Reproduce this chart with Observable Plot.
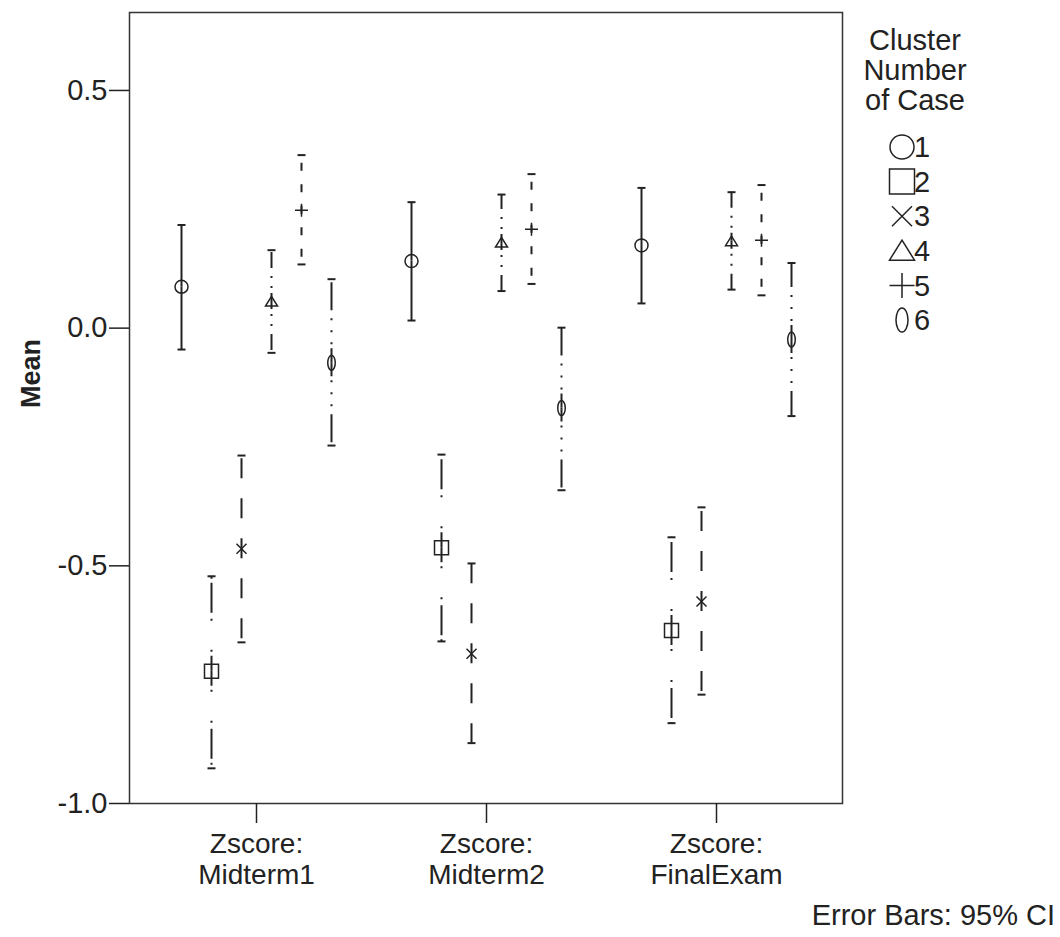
<!DOCTYPE html>
<html><head><meta charset="utf-8">
<script src="https://cdn.jsdelivr.net/npm/d3@7"></script>
<script src="https://cdn.jsdelivr.net/npm/@observablehq/plot@0.6"></script>
<style>
body{margin:0;background:#fff;font-family:"Liberation Sans",Arial,Helvetica,sans-serif;color:#222}
#wrap{position:relative;width:1060px;height:937px}
#caption{position:absolute;right:5px;top:900px;font-size:29px;line-height:30px;white-space:nowrap}
</style></head><body>
<div id="wrap"><div id="chart"></div><div id="caption">Error Bars: 95% CI</div></div>
<script>
// ---- data ----
const measures = ["Midterm1", "Midterm2", "FinalExam"];
const tickLabels = ["Zscore:\nMidterm1", "Zscore:\nMidterm2", "Zscore:\nFinalExam"];
const clusters = [1, 2, 3, 4, 5, 6];
const legendTitle = ["Cluster", "Number", "of Case"];
const yTicks = [0.5, 0.0, -0.5, -1.0];
// per cluster: [Midterm1, Midterm2, FinalExam]
const means = [
  [0.087, 0.141, 0.174],
  [-0.722, -0.462, -0.636],
  [-0.464, -0.685, -0.575],
  [0.056, 0.180, 0.183],
  [0.248, 0.208, 0.185],
  [-0.073, -0.168, -0.024]
];
const lowers = [
  [-0.045, 0.016, 0.052],
  [-0.926, -0.659, -0.831],
  [-0.661, -0.873, -0.771],
  [-0.052, 0.078, 0.081],
  [0.134, 0.093, 0.069],
  [-0.247, -0.341, -0.185]
];
const uppers = [
  [0.217, 0.265, 0.295],
  [-0.522, -0.266, -0.440],
  [-0.268, -0.495, -0.377],
  [0.164, 0.281, 0.286],
  [0.364, 0.324, 0.301],
  [0.103, 0.001, 0.137]
];

// ---- styles ----
const FONT = '"Liberation Sans", Arial, Helvetica, sans-serif';
const INK = "#222";
function sym(fn) { return { draw(ctx, size) { const r = Math.sqrt(size / Math.PI); fn(ctx, r); } }; }
const SYM = {
  circle: sym((c, r) => { c.moveTo(r, 0); c.arc(0, 0, r, 0, 2 * Math.PI); }),
  square: sym((c, r) => { c.rect(-r, -r, 2 * r, 2 * r); }),
  times: sym((c, r) => { c.moveTo(-r, -r); c.lineTo(r, r); c.moveTo(-r, r); c.lineTo(r, -r); }),
  triangle: sym((c, r) => { c.moveTo(0, -r * 0.85); c.lineTo(r, r * 0.75); c.lineTo(-r, r * 0.75); c.closePath(); }),
  plus: sym((c, r) => { c.moveTo(-r, 0); c.lineTo(r, 0); c.moveTo(0, -r); c.lineTo(0, r); }),
  ellipse: sym((c, r) => {
    const rx = r * 0.5, ry = r, k = 0.5523;
    c.moveTo(0, -ry);
    c.bezierCurveTo(k * rx, -ry, rx, -k * ry, rx, 0);
    c.bezierCurveTo(rx, k * ry, k * rx, ry, 0, ry);
    c.bezierCurveTo(-k * rx, ry, -rx, k * ry, -rx, 0);
    c.bezierCurveTo(-rx, -k * ry, -k * rx, -ry, 0, -ry);
    c.closePath();
  }),
  cap: sym((c, r) => { c.moveTo(-r, 0); c.lineTo(r, 0); })
};
const clusterStyle = [
  { dx: -75, symbol: SYM.circle, r: 6.5, lr: 12, dash: null, off: 0 },
  { dx: -45, symbol: SYM.square, r: 7, lr: 12.5, dash: "30,4,2,29,2,6", off: 15 },
  { dx: -15, symbol: SYM.times, r: 5, lr: 10, dash: "20,20", off: 10 },
  { dx: 15, symbol: SYM.triangle, r: 6, lr: 12.5, dash: "16,5,2,8,2,8", off: 8 },
  { dx: 45, symbol: SYM.plus, r: 6.5, lr: 12.5, dash: "8,13.5", off: 4 },
  { dx: 75, symbol: SYM.ellipse, r: 7.5, lr: 12, dash: "28,4,2,10,2,10,2,8", off: 14 }
];

// ---- build rows ----
const rowsByCluster = clusters.map((c, k) => measures.map((m, j) => ({
  measure: m, cluster: c, mean: means[k][j], lower: lowers[k][j], upper: uppers[k][j]
})));

const clusterMarks = rowsByCluster.flatMap((rows, k) => {
  const s = clusterStyle[k];
  const ruleOpts = { x: "measure", dx: s.dx, stroke: INK, strokeWidth: 2 };
  if (s.dash) { ruleOpts.strokeDasharray = s.dash; ruleOpts.strokeDashoffset = s.off; }
  return [
    Plot.ruleX(rows, { ...ruleOpts, y1: "mean", y2: "upper" }),
    Plot.ruleX(rows, { ...ruleOpts, y1: "mean", y2: "lower" }),
    Plot.dot(rows, { x: "measure", y: "upper", dx: s.dx, symbol: SYM.cap, r: 4, stroke: INK, strokeWidth: 2 }),
    Plot.dot(rows, { x: "measure", y: "lower", dx: s.dx, symbol: SYM.cap, r: 4, stroke: INK, strokeWidth: 2 }),
    Plot.dot(rows, { x: "measure", y: "mean", dx: s.dx, symbol: s.symbol, r: s.r, stroke: INK, strokeWidth: 1.5, fill: "none" })
  ];
});

const plot = Plot.plot({
  width: 1060,
  height: 900,
  marginLeft: 129,
  marginRight: 218,
  marginTop: 12,
  marginBottom: 97,
  style: { fontFamily: FONT, fontSize: "29px", color: INK, background: "white", overflow: "visible" },
  x: { type: "point", domain: measures, padding: 0.55 },
  y: { domain: [-1.0, 0.664] },
  marks: [
    Plot.frame({ stroke: "#333", strokeWidth: 1.5 }),
    Plot.axisY({ ticks: yTicks, tickSize: 20, tickPadding: 2, tickFormat: d => d.toFixed(1), label: null, strokeWidth: 1.5 }),
    Plot.axisX({ tickSize: 20, tickPadding: 8, tickFormat: d => tickLabels[measures.indexOf(d)], label: null, fontSize: 28, lineHeight: 1.1, strokeWidth: 1.5 }),
    Plot.text(["Mean"], { text: d => d, frameAnchor: "left", dx: -98, rotate: -90, fontWeight: "bold", fontSize: 27 }),
    ...clusterMarks
  ]
});

// ---- legend (drawn into the same svg) ----
const svg = d3.select(plot);
const lg = svg.append("g").attr("font-family", FONT).attr("font-size", 29).attr("fill", INK);
legendTitle.forEach((t, i) => {
  lg.append("text").attr("x", 915).attr("y", 40 + 30 * i).attr("dy", "0.35em")
    .attr("text-anchor", "middle").text(t);
});
clusters.forEach((c, i) => {
  const y = 147 + 34.6 * i;
  const p = d3.path();
  clusterStyle[i].symbol.draw(p, Math.PI * clusterStyle[i].lr ** 2);
  lg.append("path").attr("transform", `translate(902,${y})`).attr("d", p.toString())
    .attr("fill", "none").attr("stroke", INK).attr("stroke-width", 1.5);
  lg.append("text").attr("x", 922).attr("y", y).attr("dy", "0.35em").text(c);
});

document.getElementById("chart").appendChild(plot);
</script>
</body></html>
